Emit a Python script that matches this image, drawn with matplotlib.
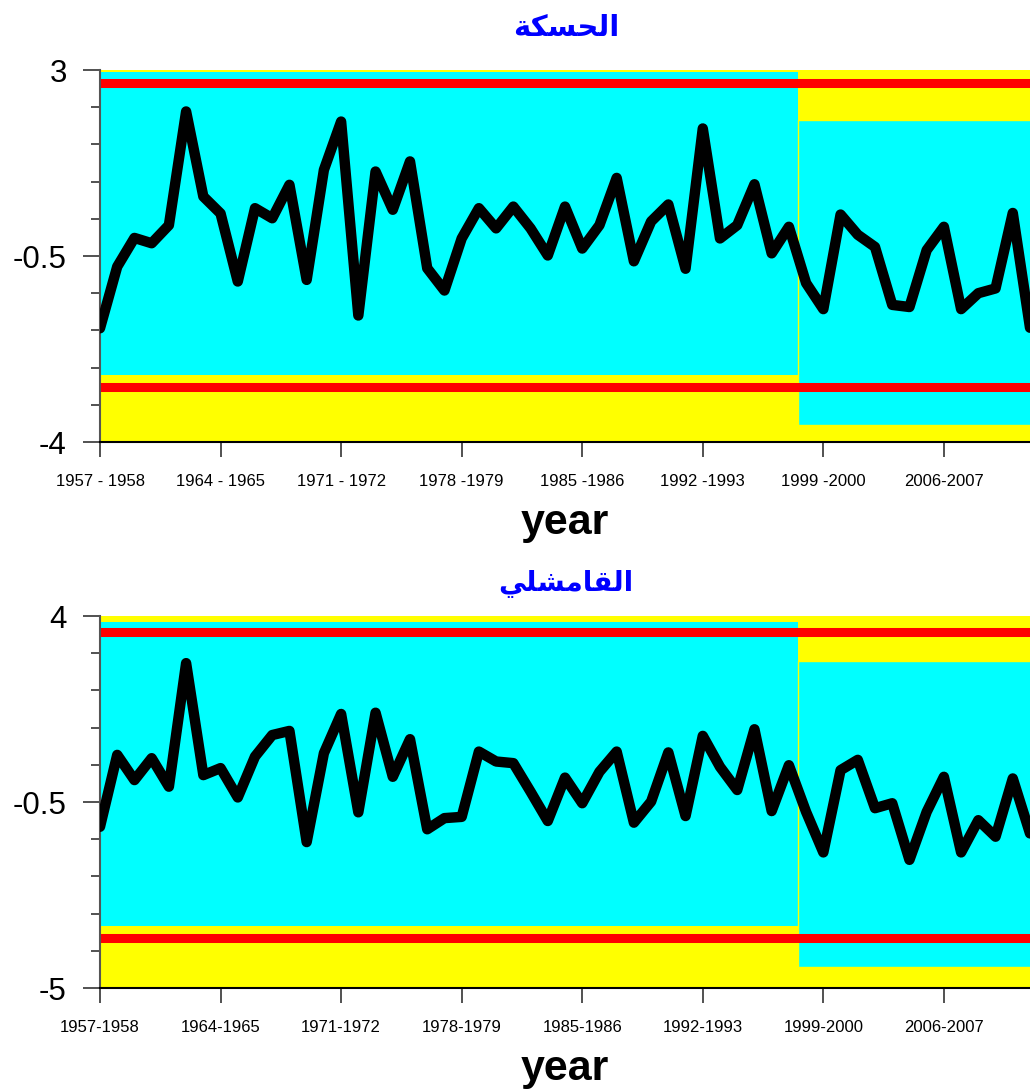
import numpy as np
import matplotlib
matplotlib.use('Agg')
import matplotlib.pyplot as plt
from matplotlib.patches import Rectangle
from matplotlib.ticker import FixedLocator, FixedFormatter

plt.rcParams['font.family'] = ['Liberation Sans', 'DejaVu Sans']

years = np.arange(1957, 2012)

# station 1 (top)
hasakah = [-1.86, -0.70, -0.16, -0.26, 0.08, 2.22, 0.62, 0.30, -0.98, 0.40,
           0.21, 0.84, -0.95, 1.12, 2.03, -1.62, 1.09, 0.37, 1.28, -0.73,
           -1.15, -0.17, 0.40, 0.02, 0.43, 0.02, -0.49, 0.43, -0.36, 0.08,
           0.97, -0.60, 0.15, 0.47, -0.74, 1.90, -0.17, 0.08, 0.85, -0.45,
           0.05, -1.01, -1.50, 0.28, -0.10, -0.33, -1.42, -1.46, -0.39, 0.05,
           -1.50, -1.20, -1.11, 0.31, -1.85]
# station 2 (bottom)
qamishli = [-1.10, 0.64, 0.03, 0.56, -0.13, 2.86, 0.15, 0.32, -0.39, 0.60,
            1.12, 1.22, -1.47, 0.68, 1.63, -0.75, 1.66, 0.11, 1.02, -1.16,
            -0.89, -0.86, 0.72, 0.48, 0.44, -0.25, -0.96, 0.09, -0.53, 0.23,
            0.72, -1.00, -0.49, 0.70, -0.84, 1.10, 0.35, -0.21, 1.26, -0.72,
            0.39, -0.74, -1.72, 0.27, 0.52, -0.65, -0.53, -1.90, -0.74, 0.11,
            -1.72, -0.94, -1.34, 0.07, -1.26]

titles = ['الحسكة', 'القامشلي']
xticks_years = [1957, 1964, 1971, 1978, 1985, 1992, 1999, 2006]
xlabels_top = ['1957 - 1958', '1964 - 1965', '1971 - 1972', '1978 -1979',
               '1985 -1986', '1992 -1993', '1999 -2000', '2006-2007']
xlabels_bot = ['1957-1958', '1964-1965', '1971-1972', '1978-1979',
               '1985-1986', '1992-1993', '1999-2000', '2006-2007']

split_year = 1997.5
# band limits: (low, high) before and after split, control lines
bands_top = [(-2.74, 2.96), (-3.68, 2.06)]
bands_bot = [(-3.50, 3.86), (-4.48, 2.91)]
limits_top = [2.75, -2.97]
limits_bot = [3.61, -3.79]

ARABIC_FORMS = {
    'ا': ('\ufe8d', '\ufe8e', None, None),
    'ل': ('\ufedd', '\ufede', '\ufedf', '\ufee0'),
    'ح': ('\ufea1', '\ufea2', '\ufea3', '\ufea4'),
    'س': ('\ufeb1', '\ufeb2', '\ufeb3', '\ufeb4'),
    'ك': ('\ufed9', '\ufeda', '\ufedb', '\ufedc'),
    'ة': ('\ufe93', '\ufe94', None, None),
    'ق': ('\ufed5', '\ufed6', '\ufed7', '\ufed8'),
    'م': ('\ufee1', '\ufee2', '\ufee3', '\ufee4'),
    'ش': ('\ufeb5', '\ufeb6', '\ufeb7', '\ufeb8'),
    'ي': ('\ufef1', '\ufef2', '\ufef3', '\ufef4'),
}


def shape_arabic(word):
    # matplotlib has no text shaping, pick contextual forms and reverse
    out = []
    for i, ch in enumerate(word):
        iso, fin, ini, med = ARABIC_FORMS[ch]
        prev_joins = i > 0 and ARABIC_FORMS[word[i - 1]][2] is not None
        join_next = ini is not None and i < len(word) - 1
        if prev_joins and join_next:
            out.append(med)
        elif prev_joins:
            out.append(fin)
        elif join_next:
            out.append(ini)
        else:
            out.append(iso)
    return ''.join(reversed(out))


def draw_panel(ax, vals, bands, limits, ylim, yticks, ylabels, minor, xlabels):
    ax.set_facecolor('#ffff00')
    x0, x1 = years[0], years[-1]
    (lo1, hi1), (lo2, hi2) = bands
    ax.add_patch(Rectangle((x0, lo1), split_year - x0, hi1 - lo1,
                           facecolor='#00ffff', edgecolor='none', zorder=1))
    ax.add_patch(Rectangle((split_year, lo2), x1 + 1 - split_year, hi2 - lo2,
                           facecolor='#00ffff', edgecolor='#ffff00', lw=1, zorder=1))
    for lv in limits:
        ax.axhline(lv, color='#ff0000', lw=6.5, zorder=2)
    ax.plot(years, vals, color='black', lw=7.5, solid_joinstyle='round',
            solid_capstyle='round', zorder=3)
    ax.set_xlim(x0, x1)
    ax.set_ylim(*ylim)
    ax.yaxis.set_major_locator(FixedLocator(yticks))
    ax.yaxis.set_major_formatter(FixedFormatter(ylabels))
    ax.yaxis.set_minor_locator(FixedLocator(np.arange(ylim[0], ylim[1] + 0.01, minor)))
    ax.xaxis.set_major_locator(FixedLocator(xticks_years))
    ax.xaxis.set_major_formatter(FixedFormatter(xlabels))
    ax.tick_params(axis='y', which='major', length=12, width=1.2, color='#333333',
                   labelsize=22.5, pad=12)
    ax.tick_params(axis='y', which='minor', length=6.7, width=1.2, color='#333333')
    ax.tick_params(axis='x', which='major', length=11, width=1.2, color='#333333',
                   labelsize=12, pad=12)
    for s in ['top', 'right']:
        ax.spines[s].set_visible(False)
    ax.spines['left'].set_color('#555555')
    ax.spines['left'].set_linewidth(1.5)
    ax.spines['bottom'].set_color('black')
    ax.spines['bottom'].set_linewidth(1.5)
    ax.set_xlabel('year', fontsize=31, fontweight='bold', labelpad=10)


fig = plt.figure(figsize=(10.3, 10.92), dpi=100)
ax1 = fig.add_axes([100 / 1030, 650 / 1092, 930 / 1030, 372 / 1092])
ax2 = fig.add_axes([100 / 1030, 104 / 1092, 930 / 1030, 372 / 1092])

draw_panel(ax1, hasakah, bands_top, limits_top, (-4, 3), [3, -0.5, -4],
           ['3', '-0.5', '-4'], 0.7, xlabels_top)
draw_panel(ax2, qamishli, bands_bot, limits_bot, (-5, 4), [4, -0.5, -5],
           ['4', '-0.5', '-5'], 0.9, xlabels_bot)

fig.text(566 / 1030, 1 - 28 / 1092, shape_arabic(titles[0]), color='#0000ff',
         fontsize=21, fontweight='bold', ha='center', va='center',
         family=['DejaVu Sans'])
fig.text(566 / 1030, 1 - 584 / 1092, shape_arabic(titles[1]), color='#0000ff',
         fontsize=20, fontweight='bold', ha='center', va='center',
         family=['DejaVu Sans'])

fig.savefig('out.png', dpi=100)
